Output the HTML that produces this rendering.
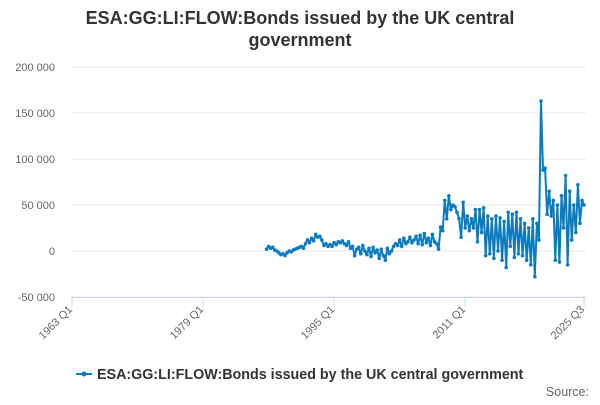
<!DOCTYPE html>
<html><head><meta charset="utf-8"><style>
body{margin:0;background:#fff;font-family:"Liberation Sans",sans-serif}
svg text{font-family:"Liberation Sans",sans-serif}
</style></head><body>
<svg width="600" height="400" id="c">
<text x="300" y="24" text-anchor="middle" font-size="18" font-weight="bold" fill="#333">ESA:GG:LI:FLOW:Bonds issued by the UK central</text>
<text x="300" y="46" text-anchor="middle" font-size="18" font-weight="bold" fill="#333">government</text>
<g id="grid"></g><g id="xax"></g><g id="series"></g>
<g>
<line x1="76" y1="374" x2="92" y2="374" stroke="#0a7bbf" stroke-width="2"/>
<circle cx="84" cy="374" r="2.5" fill="#0a7bbf"/>
<text x="97" y="379" font-size="14.3" font-weight="bold" fill="#333">ESA:GG:LI:FLOW:Bonds issued by the UK central government</text>
</g>
<text x="589" y="396" text-anchor="end" font-size="12.5" fill="#666">Source:</text>
</svg>
<script>
const yTicks=[-50000,0,50000,100000,150000,200000];
const xTickLabels=["1963 Q1","1979 Q1","1995 Q1","2011 Q1","2025 Q3"];
const xTickIdx=[0,64,128,192,250];
const startIdx=95;
const values=[2,5,3,4,1,0,-2,-4,-3,-5,-2,0,-1,1,2,3,
4,5,3,8,12,9,14,11,18,15,16,12,6,8,5,7,
5,9,7,10,9,11,8,6,10,3,5,-5,2,4,-3,6,
0,-4,3,-6,4,-2,1,-8,2,-5,-10,3,-3,0,5,8,
6,12,5,14,8,10,15,9,12,16,8,17,7,19,9,14,
6,18,10,8,2,26,22,55,35,60,45,50,48,42,35,15,
53,25,38,22,35,25,45,10,45,20,47,-5,38,-3,35,-8,
38,0,36,-10,32,-18,42,5,40,-7,42,-3,35,-5,30,-10,
25,-15,35,-28,30,12,163,88,90,40,65,38,55,-10,50,-12,
60,25,82,-15,65,12,50,20,72,30,55,50].map(v=>v*1000);
const NS="http://www.w3.org/2000/svg";
const x0=72,x1=584,y0=251,pxPer=46/50000;
const X=i=>x0+(x1-x0)*i/250;
const Y=v=>y0-v*pxPer;
function mk(t,a,p){const e=document.createElementNS(NS,t);for(const k in a)e.setAttribute(k,a[k]);p.appendChild(e);return e;}
const g=document.getElementById('grid'),xa=document.getElementById('xax'),s=document.getElementById('series');
yTicks.forEach(v=>{
 const l=mk('line',{x1:x0,x2:586,y1:Y(v),y2:Y(v),stroke:'#e6e6e6'},g);
 
 
 const t=mk('text',{x:55,y:Y(v)+4,'text-anchor':'end','font-size':11,fill:'#666'},g);
 
 
 t.textContent=v.toLocaleString('en').replace(/,/g,' ');
});
mk('line',{x1:x0,x2:586,y1:297.5,y2:297.5,stroke:'#ccd6eb'},xa);
xTickIdx.forEach((q,i)=>{
 const x=X(q);
 mk('line',{x1:x,x2:x,y1:297,y2:307,stroke:'#ccd6eb'},xa);
 const t=mk('text',{x:x+1,y:310,'text-anchor':'end','font-size':11,fill:'#666',transform:`rotate(-45 ${x+1} 310)`},xa);
 
 
 t.textContent=xTickLabels[i];
});
const pts=values.map((v,i)=>X(startIdx+i).toFixed(1)+','+Y(v).toFixed(1)).join(' ');
const pl=mk('polyline',{points:pts,fill:'none',stroke:'#0a7bbf','stroke-width':2,'stroke-linejoin':'round'},s);


values.forEach((v,i)=>{
 const c=mk('circle',{cx:X(startIdx+i),cy:Y(v),r:1.8,fill:'#0a7bbf'},s);
 
 
});
</script>
</body></html>
